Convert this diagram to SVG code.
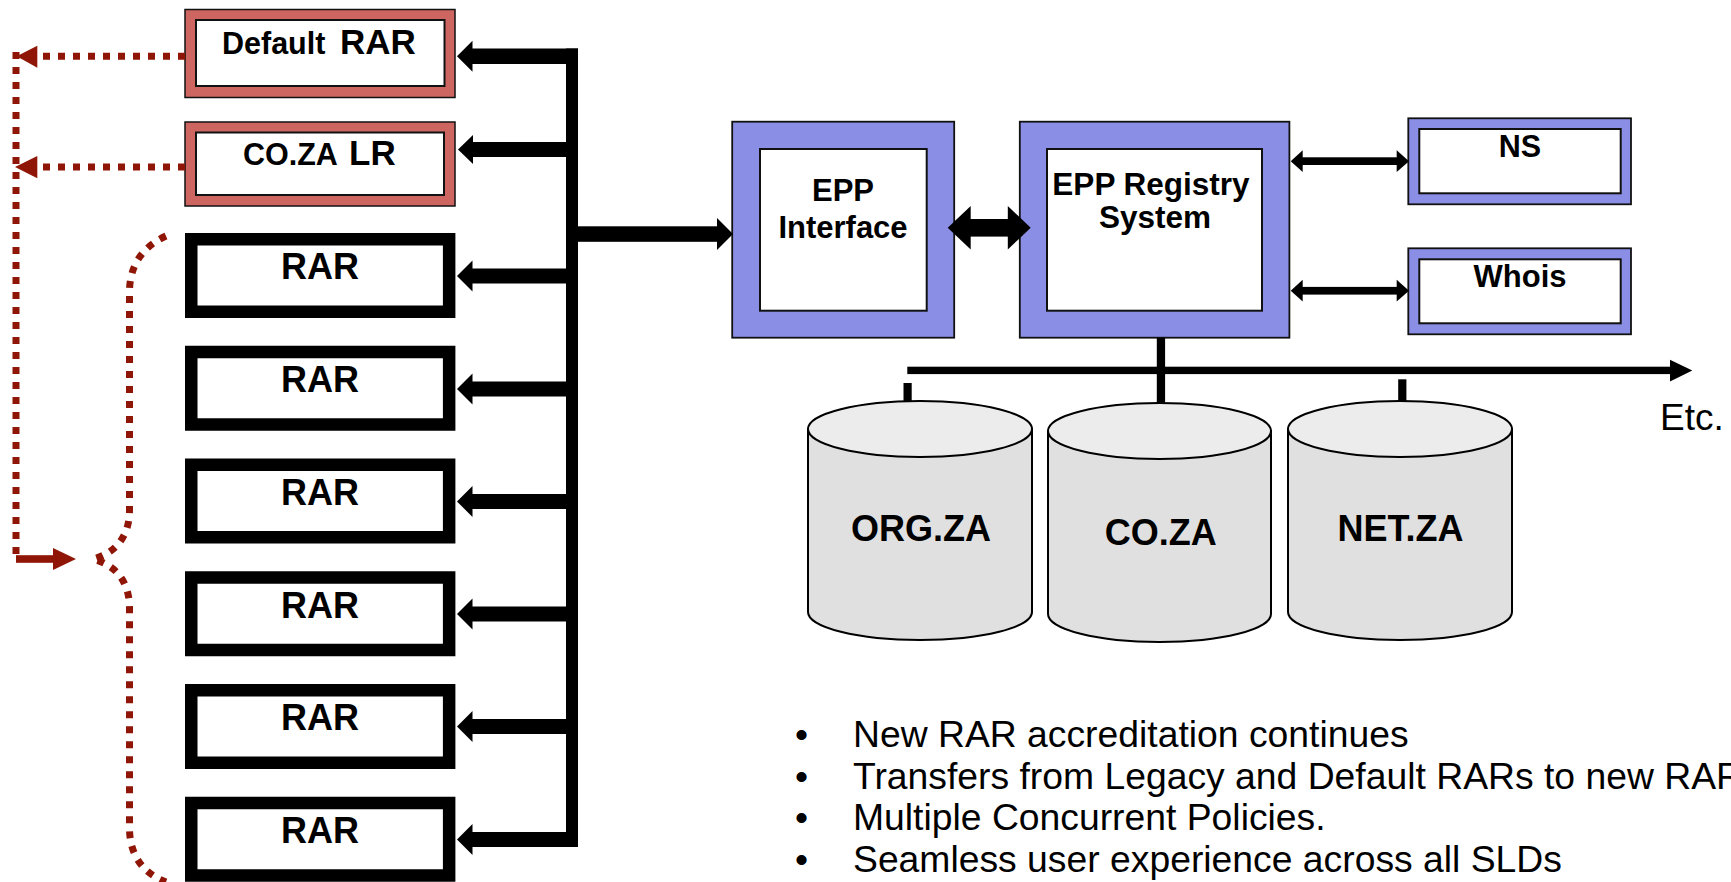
<svg xmlns="http://www.w3.org/2000/svg" width="1731" height="882" viewBox="0 0 1731 882">
<style>
  .b { font-family: "Liberation Sans", Arial, sans-serif; font-weight: bold; fill: #000; }
  .r { font-family: "Liberation Sans", Arial, sans-serif; fill: #000; }
  .rarbox { fill: #fff; stroke: #000; stroke-width: 12.5; }
  .salmon { fill: #CD6661; stroke: #111; stroke-width: 1.5; }
  .blue { fill: #8A8EE4; stroke: #111; stroke-width: 1.8; }
  .inner { fill: #fff; stroke: #111; stroke-width: 2; }
  .cylb { fill: #E0E0E0; stroke: #000; stroke-width: 2; }
  .cylt { fill: #ECECEC; stroke: #000; stroke-width: 2; }
  .dot { fill: none; stroke: #8F1606; stroke-width: 7; stroke-dasharray: 7 8; }
  .red { fill: #8F1606; }
  .blk { fill: #000; }
</style>

<!-- Nodes -->
<g id="default-rar">
  <rect class="salmon" x="185" y="9.5" width="270" height="88"/>
  <rect class="inner" x="196" y="20" width="248.5" height="66"/>
  <text class="b" y="53.5"><tspan x="222" font-size="30.5">Default</tspan><tspan x="340" font-size="35">RAR</tspan></text>
</g>
<g id="coza-lr">
  <rect class="salmon" x="185" y="122" width="270" height="84"/>
  <rect class="inner" x="196" y="132.5" width="248" height="62.5"/>
  <text class="b" y="165"><tspan x="243" font-size="30.5">CO.ZA</tspan><tspan x="349" font-size="35">LR</tspan></text>
</g>
<g id="rar-1">
  <rect class="rarbox" x="191.25" y="239.25" width="257.9" height="72.5"/>
  <text class="b" x="320" y="279.3" font-size="36" text-anchor="middle">RAR</text>
</g>
<g id="rar-2">
  <rect class="rarbox" x="191.25" y="352" width="257.9" height="72.5"/>
  <text class="b" x="320" y="392" font-size="36" text-anchor="middle">RAR</text>
</g>
<g id="rar-3">
  <rect class="rarbox" x="191.25" y="464.75" width="257.9" height="72.5"/>
  <text class="b" x="320" y="504.8" font-size="36" text-anchor="middle">RAR</text>
</g>
<g id="rar-4">
  <rect class="rarbox" x="191.25" y="577.5" width="257.9" height="72.5"/>
  <text class="b" x="320" y="617.5" font-size="36" text-anchor="middle">RAR</text>
</g>
<g id="rar-5">
  <rect class="rarbox" x="191.25" y="690.25" width="257.9" height="72.5"/>
  <text class="b" x="320" y="730.3" font-size="36" text-anchor="middle">RAR</text>
</g>
<g id="rar-6">
  <rect class="rarbox" x="191.25" y="803" width="257.9" height="72.5"/>
  <text class="b" x="320" y="843" font-size="36" text-anchor="middle">RAR</text>
</g>

<g id="epp-interface">
  <rect class="blue" x="732.2" y="121.7" width="222" height="216"/>
  <rect class="inner" x="760" y="149" width="166.7" height="161.7"/>
  <text class="b" font-size="31" text-anchor="middle"><tspan x="843" y="201">EPP</tspan><tspan x="843" y="238.3">Interface</tspan></text>
</g>
<g id="epp-registry">
  <rect class="blue" x="1019.8" y="121.7" width="269.6" height="216"/>
  <rect class="inner" x="1047" y="149" width="215" height="161.7"/>
  <text class="b" font-size="31.5" text-anchor="middle"><tspan x="1151" y="195">EPP Registry</tspan><tspan x="1155" y="228.3">System</tspan></text>
</g>
<g id="ns">
  <rect class="blue" x="1408.3" y="118.3" width="222.7" height="86"/>
  <rect class="inner" x="1419.3" y="129" width="201.4" height="64.3"/>
  <text class="b" x="1520" y="157.3" font-size="30.5" text-anchor="middle">NS</text>
</g>
<g id="whois">
  <rect class="blue" x="1408.3" y="248.3" width="222.7" height="86"/>
  <rect class="inner" x="1419.3" y="259.3" width="201.4" height="64"/>
  <text class="b" x="1520" y="286.7" font-size="31" text-anchor="middle">Whois</text>
</g>

<g id="org-za">
  <path class="cylb" d="M808,429 L808,612 A112,28 0 0 0 1032,612 L1032,429 Z"/>
  <ellipse class="cylt" cx="920" cy="429" rx="112" ry="28"/>
  <text class="b" x="921" y="541" font-size="36" text-anchor="middle">ORG.ZA</text>
</g>
<g id="co-za">
  <path class="cylb" d="M1048,431 L1048,614 A111.5,28 0 0 0 1271,614 L1271,431 Z"/>
  <ellipse class="cylt" cx="1159.5" cy="431" rx="111.5" ry="28"/>
  <text class="b" x="1160.7" y="545" font-size="36" text-anchor="middle">CO.ZA</text>
</g>
<g id="net-za">
  <path class="cylb" d="M1288,429 L1288,612 A112,28 0 0 0 1512,612 L1512,429 Z"/>
  <ellipse class="cylt" cx="1400" cy="429" rx="112" ry="28"/>
  <text class="b" x="1400.4" y="541" font-size="36" text-anchor="middle">NET.ZA</text>
</g>

<g id="etc">
  <text class="r" x="1660" y="430" font-size="37">Etc.</text>
</g>

<g id="notes" class="r" font-size="37.3">
  <text x="795" y="747">•</text><text x="853" y="747">New RAR accreditation continues</text>
  <text x="795" y="788.5">•</text><text x="853" y="788.5">Transfers from Legacy and Default RARs to new RARs</text>
  <text x="795" y="830">•</text><text x="853" y="830">Multiple Concurrent Policies.</text>
  <text x="795" y="871.5">•</text><text x="853" y="871.5">Seamless user experience across all SLDs</text>
</g>

<!-- Connectors -->
<g id="connectors">
  <!-- main bus -->
  <rect class="blk" x="566" y="48.5" width="12" height="798"/>
  <!-- arrows to registrar boxes -->
  <g id="bus-arrows" class="blk">
    <rect x="470" y="48.5" width="108" height="15.5"/>
    <polygon points="472.5,40.7 457,56.2 472.5,71.7"/>
    <rect x="470" y="142" width="102" height="15"/>
    <polygon points="473,135 458,149.5 473,164"/>
    <rect x="470" y="268.5" width="102" height="15"/>
    <polygon points="472.5,260.5 457,276 472.5,291.5"/>
    <rect x="470" y="381.5" width="102" height="15"/>
    <polygon points="472.5,373.5 457,389 472.5,404.5"/>
    <rect x="470" y="494" width="102" height="15"/>
    <polygon points="472.5,486 457,501.5 472.5,517"/>
    <rect x="470" y="606.5" width="102" height="15"/>
    <polygon points="472.5,598.5 457,614 472.5,629.5"/>
    <rect x="470" y="719" width="102" height="15"/>
    <polygon points="472.5,711 457,726.5 472.5,742"/>
    <rect x="470" y="832" width="108" height="15"/>
    <polygon points="472.5,824 457,839.5 472.5,855"/>
  </g>
  <!-- bus to EPP interface -->
  <rect class="blk" x="572" y="226.3" width="147" height="15.5"/>
  <polygon class="blk" points="717,218 733,234 717,250"/>
  <!-- EPP interface <-> registry -->
  <rect class="blk" x="968" y="219" width="42" height="17.6"/>
  <polygon class="blk" points="970.7,206 947.7,227.8 970.7,249.5"/>
  <polygon class="blk" points="1007.8,206 1030.7,227.8 1007.8,249.5"/>
  <!-- registry <-> NS -->
  <rect class="blk" x="1300" y="157.3" width="99" height="7.7"/>
  <polygon class="blk" points="1302.7,150.2 1290.7,161.2 1302.7,172"/>
  <polygon class="blk" points="1396.7,150.2 1409,161.2 1396.7,172"/>
  <!-- registry <-> Whois -->
  <rect class="blk" x="1300" y="286.9" width="99" height="7.7"/>
  <polygon class="blk" points="1302.7,279.8 1290.7,290.7 1302.7,301.6"/>
  <polygon class="blk" points="1396.7,279.8 1409,290.7 1396.7,301.6"/>
  <!-- database bus -->
  <rect class="blk" x="907.3" y="366.7" width="765" height="7.4"/>
  <polygon class="blk" points="1670,359.7 1692.3,370.4 1670,381.4"/>
  <rect class="blk" x="1156.8" y="337.7" width="8.3" height="65"/>
  <rect class="blk" x="903.5" y="383" width="8.2" height="18"/>
  <rect class="blk" x="1398.2" y="379.3" width="8.2" height="22.5"/>
  <!-- red transfer lines -->
  <path class="dot" d="M16,52 V556"/>
  <path class="dot" d="M185,56.3 H37"/>
  <polygon class="red" points="37.3,45.7 16.7,56.3 37.3,67.7"/>
  <path class="dot" d="M185,167 H37"/>
  <polygon class="red" points="37.3,156 15,167 37.3,178.3"/>
  <rect class="red" x="16" y="555.2" width="39" height="7.6"/>
  <polygon class="red" points="53,548 76,559 53,570"/>
  <path class="dot" d="M166,236 C142,247 129.5,266 129.5,292 L129.5,510 C129.5,536 116,553 93,559 C116,565 129.5,582 129.5,608 L129.5,828 C129.5,854 142,873 166,882"/>
</g>
</svg>
